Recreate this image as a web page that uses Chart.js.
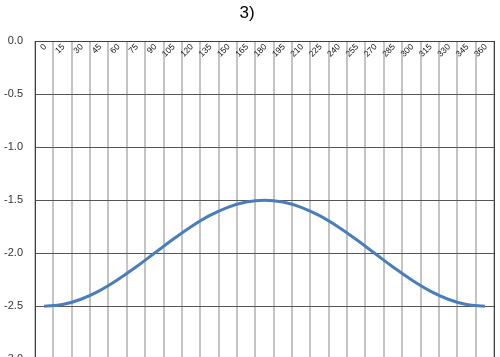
<!DOCTYPE html>
<html>
<head>
<meta charset="utf-8">
<script src="https://cdn.jsdelivr.net/npm/chart.js@4/dist/chart.umd.min.js"></script>
<style>
  html, body { margin: 0; padding: 0; background: #ffffff; overflow: hidden; }
  #wrap { width: 500px; height: 357px; overflow: hidden; }
</style>
</head>
<body>
<div id="wrap"><canvas id="c" width="500" height="378"></canvas></div>
<script>
const titleText = '3)';
const angles = ['0','15','30','45','60','75','90','105','120','135','150','165','180','195','210','225','240','255','270','285','300','315','330','345','360'];
const values = [-2.5, -2.483, -2.433, -2.354, -2.25, -2.129, -2.0, -1.871, -1.75, -1.646, -1.567, -1.517, -1.5,
                -1.517, -1.567, -1.646, -1.75, -1.871, -2.0, -2.129, -2.25, -2.354, -2.433, -2.483, -2.5];
const yMin = -3.0, yMax = 0.0, yStep = 0.5;

new Chart(document.getElementById('c'), {
  type: 'line',
  data: {
    labels: angles,
    datasets: [{
      data: values,
      borderColor: '#4A7EBB',
      borderWidth: 3,
      pointRadius: 0,
      tension: 0.4,
      fill: false
    }]
  },
  options: {
    responsive: false,
    animation: false,
    layout: { padding: { top: 0, left: 0, right: 6, bottom: 8 } },
    plugins: {
      legend: { display: false },
      tooltip: { enabled: false },
      title: {
        display: true,
        text: titleText,
        color: '#000000',
        font: { family: 'Liberation Sans, Arial, sans-serif', size: 17, weight: 'normal' },
        padding: { top: 3, bottom: 17.6 }
      }
    },
    scales: {
      x: {
        position: { y: 0 },
        offset: true,
        grid: { display: true, offset: true, color: '#c4c4c4', lineWidth: 2, drawTicks: false },
        border: { display: true, color: '#404040', width: 1 },
        ticks: {
          autoSkip: false,
          minRotation: 45,
          maxRotation: 45,
          padding: 1,
          labelOffset: 1,
          color: '#111111',
          font: { family: 'Liberation Sans, Arial, sans-serif', size: 8.5 }
        }
      },
      y: {
        position: 'left',
        min: yMin,
        max: yMax,
        grid: { display: true, color: '#555555', lineWidth: 1, drawTicks: false },
        border: { display: true, color: '#404040', width: 1 },
        ticks: {
          stepSize: yStep,
          padding: 12,
          color: '#333333',
          font: { family: 'Liberation Sans, Arial, sans-serif', size: 11 },
          callback: (v) => Number(v).toFixed(1)
        },
        afterFit: (s) => { s.width = 35; }
      },
      y2: {
        position: 'right',
        min: yMin,
        max: yMax,
        grid: { display: false, drawTicks: false },
        border: { display: true, color: '#404040', width: 1 },
        ticks: { display: false },
        afterFit: (s) => { s.width = 0; }
      }
    }
  }
});
</script>
</body>
</html>
